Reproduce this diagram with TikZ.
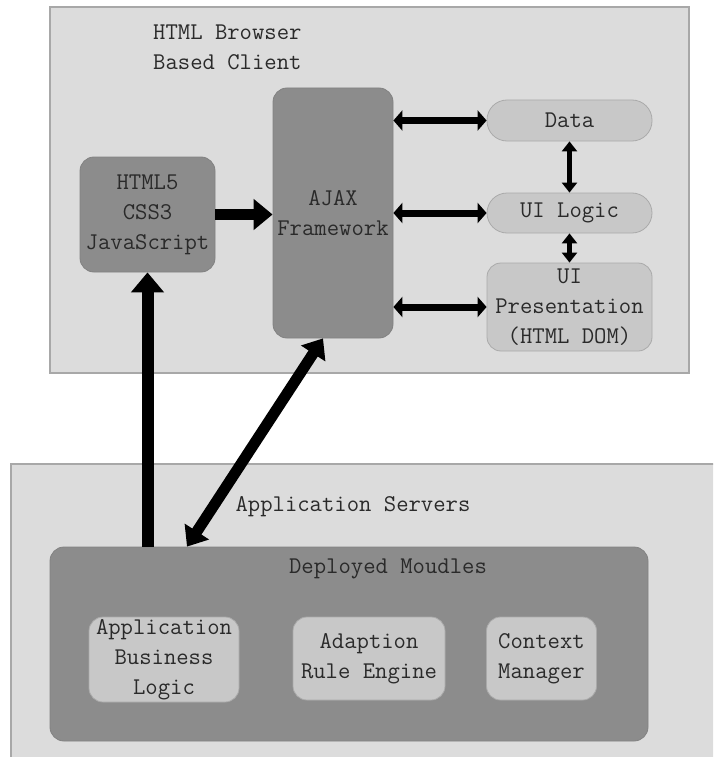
\documentclass[tikz,border=0pt]{standalone}
\usepackage{fontspec}
\usetikzlibrary{arrows.meta,calc}

\definecolor{panelfill}{HTML}{DCDCDC}
\definecolor{panelline}{HTML}{A8A8A8}
\definecolor{darkfill}{HTML}{8C8C8C}
\definecolor{darkline}{HTML}{828282}
\definecolor{lightfill}{HTML}{C8C8C8}
\definecolor{lightline}{HTML}{AAAAAA}
\definecolor{textgray}{HTML}{2A2A2A}

\newcommand{\diafont}{\ttfamily\addfontfeatures{FakeBold=0.6}\fontsize{24}{30}\selectfont}

\begin{document}
\begin{tikzpicture}[x=1pt,y=-1pt,
  panel/.style={draw=panelline, fill=panelfill, line width=1.2pt},
  boxtext/.style={align=center, text=textgray, inner sep=0pt, font=\diafont},
  darkbox/.style={boxtext, fill=darkfill, draw=darkline, line width=0.8pt,
    rounded corners=14pt},
  lightbox/.style={boxtext, fill=lightfill, draw=lightline, line width=0.8pt,
    rounded corners=14pt},
  pill/.style={lightbox, rounded corners=20pt},
  label/.style={text=textgray, inner sep=0pt, align=left, font=\diafont},
  bigarrow/.style={line width=12pt, -{Triangle[length=20pt,width=32pt]}},
  midarrow/.style={line width=11pt, -{Triangle[length=19pt,width=30pt]}},
  diagarrow/.style={line width=11pt, {Triangle[length=18pt,width=28pt]}-{Triangle[length=18pt,width=28pt]}},
  linkarrow/.style={line width=7pt, {Triangle[length=9pt,width=20pt]}-{Triangle[length=9pt,width=20pt]}},
  smallarrow/.style={line width=4.5pt, {Triangle[length=10pt,width=15pt]}-{Triangle[length=10pt,width=15pt]}},
]
\useasboundingbox (0,0) rectangle (713,757);
\fill[white] (0,0) rectangle (713,757);
\clip (0,0) rectangle (713,757);

% client and server panels
\path[panel] (50,7) rectangle (689,373);
\path[panel] (11,464) rectangle (730,775);

\node[label, anchor=west] (client) at (153,47.5) {HTML Browser\\Based Client};
\node[label] (servers) at (353,507) {Application Servers};

% browser side
\node[darkbox, minimum width=135pt, minimum height=115pt] (html) at (147.5,214.5)
  {HTML5\\CSS3\\JavaScript};
\node[darkbox, minimum width=120pt, minimum height=250pt] (ajax) at (333,213)
  {AJAX\\Framework};
\node[pill, minimum width=165pt, minimum height=41pt] (data) at (569.5,120.5) {Data};
\node[pill, minimum width=165pt, minimum height=40pt] (logic) at (569.5,213) {UI Logic};
\node[lightbox, minimum width=165pt, minimum height=88pt] (pres) at (569.5,307)
  {UI\\Presentation\\(HTML DOM)};

% server side
\node[darkbox, minimum width=598pt, minimum height=194pt] (dep) at (349,644) {};
\node[label] (deptitle) at (388,569) {Deployed Moudles};
\node[lightbox, minimum width=150pt, minimum height=85pt] (biz) at (164,659.5)
  {Application\\Business\\Logic};
\node[lightbox, minimum width=152pt, minimum height=83pt] (rule) at (369,658.5)
  {Adaption\\Rule Engine};
\node[lightbox, minimum width=110pt, minimum height=83pt] (ctx) at (541.5,658.5)
  {Context\\Manager};

% connectors
\draw[midarrow] (html.east) -- (ajax.west |- html.east);
\draw[linkarrow] (ajax.east |- data.west) -- (data.west);
\draw[linkarrow] (ajax.east |- logic.west) -- (logic.west);
\draw[linkarrow] (ajax.east |- pres.west) -- (pres.west);
\draw[smallarrow] (data.south) -- (logic.north);
\draw[smallarrow] (logic.south) -- (pres.north);
\draw[bigarrow] (dep.north -| html.south) -- (html.south);
\coordinate (dtop) at ($(ajax.south)+(-10,0)$);
\coordinate (dbot) at (dep.north -| 187,0);
\draw[diagarrow] (dtop) -- (dbot);
\end{tikzpicture}
\end{document}
